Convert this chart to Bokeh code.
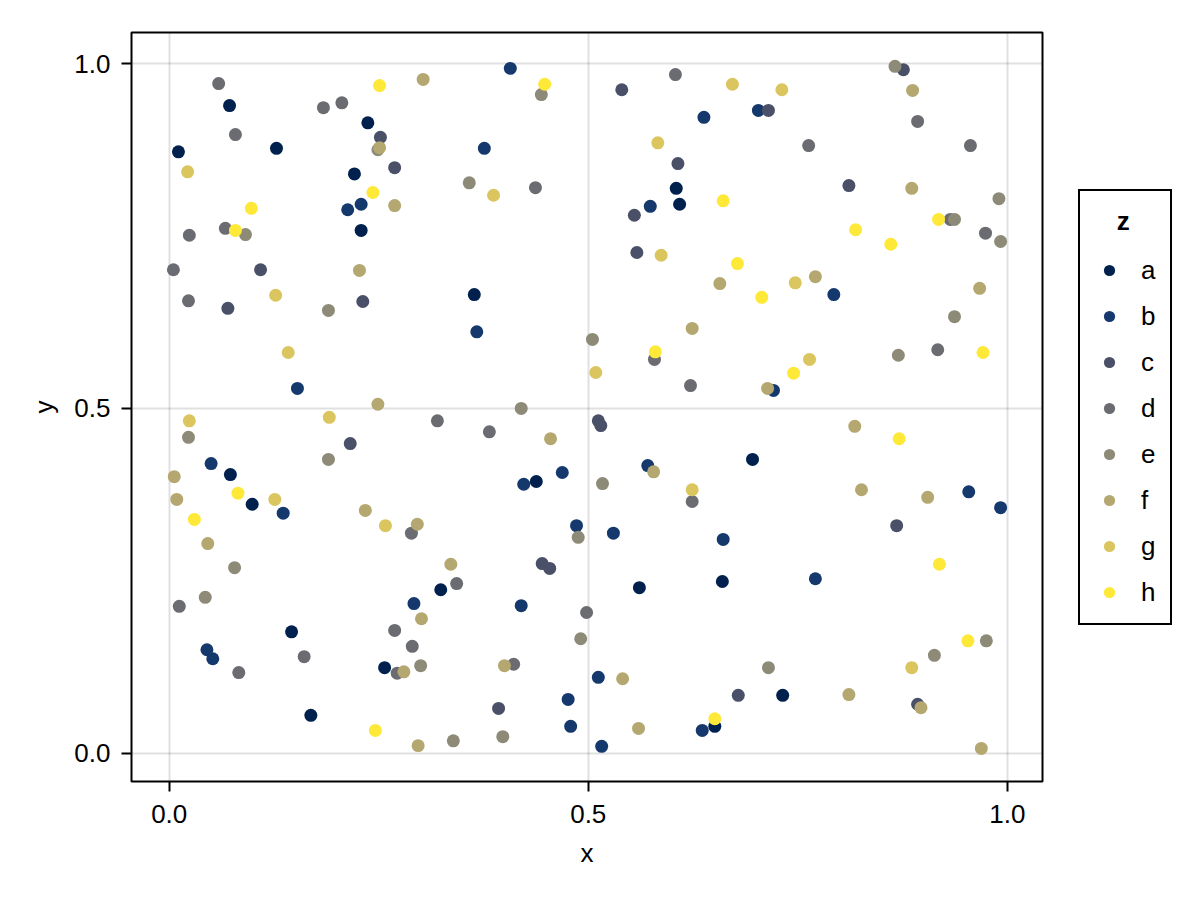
from bokeh.plotting import figure
from bokeh.models import Range1d, FixedTicker, NumeralTickFormatter, Legend, LegendItem
from bokeh.embed import file_html
from bokeh.resources import INLINE

categories = ["a", "b", "c", "d", "e", "f", "g", "h"]
palette = ["#00204D", "#15396D", "#4A5068", "#6B6C71", "#8E8A78", "#B4A770", "#DAC55F", "#FEE838"]

x = [0.059, 0.072, 0.079, 0.011, 0.128, 0.022, 0.098, 0.024, 0.067, 0.079,
     0.091, 0.005, 0.109, 0.184, 0.206, 0.251, 0.303, 0.237, 0.252, 0.249,
     0.251, 0.269, 0.221, 0.243, 0.213, 0.229, 0.269, 0.229, 0.227, 0.407,
     0.448, 0.444, 0.376, 0.358, 0.387, 0.437, 0.604, 0.540, 0.672, 0.638,
     0.583, 0.607, 0.605, 0.609, 0.574, 0.555, 0.661, 0.558, 0.587, 0.678,
     0.657, 0.866, 0.876, 0.887, 0.893, 0.731, 0.703, 0.715, 0.763, 0.956,
     0.811, 0.886, 0.990, 0.918, 0.932, 0.937, 0.974, 0.992, 0.819, 0.861,
     0.747, 0.771, 0.967, 0.023, 0.070, 0.127, 0.190, 0.231, 0.142, 0.153,
     0.249, 0.024, 0.191, 0.320, 0.023, 0.216, 0.190, 0.050, 0.073, 0.006,
     0.009, 0.082, 0.099, 0.126, 0.136, 0.030, 0.234, 0.258, 0.296, 0.289,
     0.364, 0.367, 0.505, 0.509, 0.580, 0.579, 0.622, 0.624, 0.420, 0.382,
     0.455, 0.512, 0.515, 0.571, 0.578, 0.624, 0.624, 0.469, 0.423, 0.438,
     0.517, 0.486, 0.530, 0.707, 0.793, 0.937, 0.917, 0.870, 0.971, 0.764,
     0.745, 0.714, 0.721, 0.818, 0.871, 0.696, 0.826, 0.905, 0.954, 0.992,
     0.868, 0.046, 0.078, 0.043, 0.012, 0.045, 0.052, 0.083, 0.146, 0.161,
     0.169, 0.246, 0.297, 0.269, 0.292, 0.301, 0.290, 0.257, 0.272, 0.280,
     0.300, 0.324, 0.488, 0.661, 0.336, 0.343, 0.445, 0.454, 0.420, 0.498,
     0.561, 0.660, 0.491, 0.411, 0.400, 0.512, 0.541, 0.476, 0.393, 0.479,
     0.516, 0.339, 0.398, 0.560, 0.636, 0.651, 0.651, 0.679, 0.771, 0.919,
     0.953, 0.975, 0.913, 0.886, 0.715, 0.732, 0.811, 0.893, 0.897, 0.969]

y = [0.971, 0.939, 0.897, 0.872, 0.877, 0.843, 0.790, 0.751, 0.761, 0.758,
     0.752, 0.701, 0.701, 0.936, 0.943, 0.968, 0.977, 0.914, 0.893, 0.875,
     0.878, 0.849, 0.840, 0.813, 0.788, 0.796, 0.794, 0.758, 0.700, 0.993,
     0.970, 0.955, 0.877, 0.827, 0.809, 0.820, 0.984, 0.962, 0.970, 0.922,
     0.885, 0.855, 0.819, 0.796, 0.793, 0.780, 0.801, 0.726, 0.722, 0.710,
     0.681, 0.996, 0.991, 0.961, 0.916, 0.962, 0.932, 0.932, 0.881, 0.881,
     0.823, 0.819, 0.804, 0.774, 0.774, 0.774, 0.754, 0.742, 0.759, 0.738,
     0.682, 0.691, 0.674, 0.656, 0.645, 0.664, 0.642, 0.655, 0.581, 0.529,
     0.506, 0.482, 0.487, 0.482, 0.458, 0.449, 0.426, 0.420, 0.404, 0.401,
     0.368, 0.377, 0.361, 0.368, 0.348, 0.339, 0.352, 0.330, 0.332, 0.319,
     0.665, 0.611, 0.600, 0.552, 0.582, 0.571, 0.533, 0.616, 0.500, 0.466,
     0.456, 0.482, 0.475, 0.417, 0.408, 0.382, 0.365, 0.407, 0.390, 0.394,
     0.391, 0.330, 0.319, 0.661, 0.665, 0.633, 0.585, 0.577, 0.581, 0.571,
     0.551, 0.529, 0.526, 0.474, 0.456, 0.426, 0.382, 0.371, 0.379, 0.356,
     0.330, 0.304, 0.269, 0.226, 0.213, 0.150, 0.137, 0.117, 0.176, 0.140,
     0.055, 0.033, 0.011, 0.178, 0.217, 0.195, 0.155, 0.124, 0.116, 0.118,
     0.127, 0.237, 0.313, 0.310, 0.274, 0.246, 0.275, 0.268, 0.214, 0.204,
     0.240, 0.249, 0.166, 0.129, 0.127, 0.110, 0.108, 0.078, 0.065, 0.039,
     0.010, 0.018, 0.024, 0.036, 0.033, 0.039, 0.050, 0.084, 0.253, 0.274,
     0.163, 0.163, 0.142, 0.124, 0.124, 0.084, 0.085, 0.071, 0.066, 0.007]

z = list("dadaaghddh" "edcddhface" "fcahbbfafb" "hebegddcgb" "gcaabchcgh"
         "fecfdgbcdd" "cfehdedehh" "gffdcgecgb" "fggdecebaf" "fhagbhfgfd"
         "abeghddfed" "fccbfgdbba" "ebbhbedehg" "hfbfhaffbb" "cfeedbbdad"
         "ahfdbfdadf" "eaebfdccbd" "aaedfbfbcb" "beefbahcbh" "heegeafcff")

tick_values = [0.0, 0.5, 1.0]
FONT = "Liberation Sans"
FS = "26px"

p = figure(frame_width=911, frame_height=749,
           x_range=Range1d(-0.045, 1.042), y_range=Range1d(-0.041, 1.045),
           output_backend="svg", toolbar_location=None,
           min_border_left=131, min_border_top=32, min_border_bottom=105,
           min_border_right=150, x_axis_label="x", y_axis_label="y")
p.background_fill_color = "white"
p.border_fill_color = "white"
p.outline_line_color = "black"
p.outline_line_width = 2
p.outline_line_alpha = 1.0

for ax in (p.xaxis[0], p.yaxis[0]):
    ax.ticker = FixedTicker(ticks=tick_values)
    ax.formatter = NumeralTickFormatter(format="0.0")
    ax.major_label_text_font = FONT
    ax.major_label_text_font_size = FS
    ax.major_label_text_color = "black"
    ax.axis_label_text_font = FONT
    ax.axis_label_text_font_size = FS
    ax.axis_label_text_font_style = "normal"
    ax.axis_label_text_color = "black"
    ax.major_tick_out = 10
    ax.major_tick_in = 0
    ax.major_tick_line_width = 2
    ax.major_tick_line_color = "black"
    ax.minor_tick_line_color = None
    ax.axis_line_color = None

p.xaxis[0].major_label_standoff = 13
p.xaxis[0].axis_label_standoff = 12
p.yaxis[0].major_label_standoff = 11
p.yaxis[0].axis_label_standoff = 12

p.grid.grid_line_color = "black"
p.grid.grid_line_alpha = 0.12
p.grid.grid_line_width = 2

items = []
for cat, col in zip(categories, palette):
    xs = [xv for xv, zv in zip(x, z) if zv == cat]
    ys = [yv for yv, zv in zip(y, z) if zv == cat]
    r = p.scatter(xs, ys, size=13, marker="circle", fill_color=col, line_color=None)
    items.append(LegendItem(label=cat, renderers=[r]))

legend = Legend(items=items, title="\u00a0\u00a0\u00a0z", location="center_left",
                title_text_font=FONT, title_text_font_size=FS, title_text_font_style="bold",
                title_text_color="black",
                label_text_font=FONT, label_text_font_size=FS, label_text_color="black",
                glyph_width=28, glyph_height=30, label_height=30, label_width=10, spacing=15,
                padding=15, label_standoff=18, title_standoff=18,
                border_line_color="black", border_line_width=2, border_line_alpha=1.0,
                background_fill_color="white", background_fill_alpha=1.0, margin=36)
p.add_layout(legend, "right")

open("out.html", "w").write(file_html(p, INLINE))
